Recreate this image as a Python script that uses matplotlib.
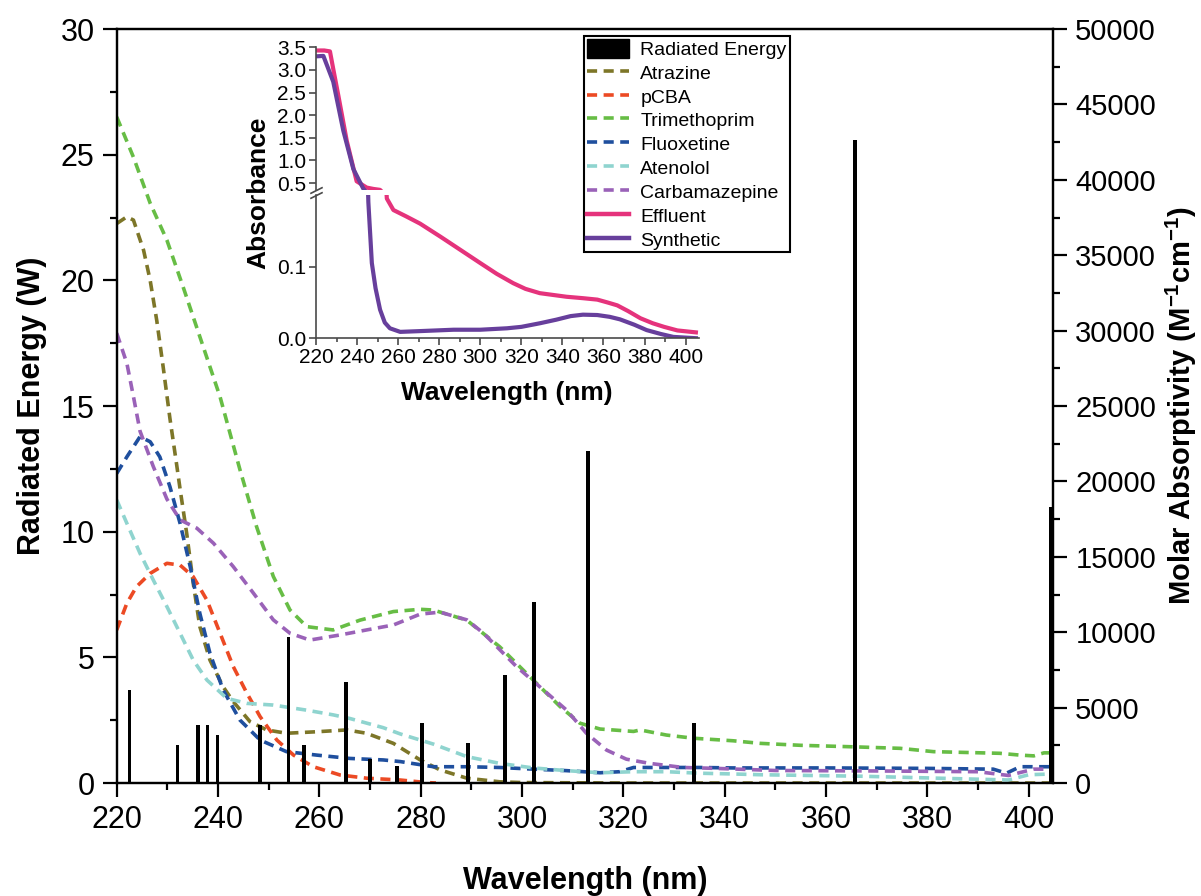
import matplotlib
matplotlib.use('Agg')
import matplotlib.pyplot as plt
from matplotlib import font_manager
from matplotlib.patches import Patch
from matplotlib.lines import Line2D
from matplotlib.ticker import MultipleLocator, FormatStrFormatter

plt.rcParams['font.family'] = 'Liberation Sans'
plt.rcParams['mathtext.fontset'] = 'custom'
plt.rcParams['mathtext.rm'] = 'Liberation Sans'
plt.rcParams['mathtext.bf'] = 'Liberation Sans:bold'

# the right axis title is set in a condensed face in the original
installed = {f.name for f in font_manager.fontManager.ttflist}
narrow = 'Liberation Sans Narrow' if 'Liberation Sans Narrow' in installed else 'Liberation Sans'

# Radiated energy of the lamp lines (W)
lamp_wl = [222.5, 232, 236, 237.9, 239.9, 248.3, 253.9, 257, 265.2, 270, 275.3,
           280.3, 289.4, 296.7, 302.4, 313, 334, 365.7, 404.3]
lamp_w = [3.7, 1.5, 2.3, 2.3, 1.9, 2.3, 5.8, 1.5, 4.0, 0.95, 0.68,
          2.4, 1.6, 4.3, 7.2, 13.2, 2.4, 25.6, 11.0]

# molar absorptivity (M-1 cm-1) of each compound
atr_wl = [220, 222, 223.3, 225.3, 226.6, 227.9, 229.2, 230.5, 231.8, 232.5, 233.8, 235.1,
          236.4, 238.4, 241, 243, 246.3, 249.6, 253.5, 259.5, 265.4, 269.3, 274.6, 279.9,
          283.8, 289.1, 295.6, 300, 320, 340, 360, 380, 404.8]
atr_eps = [37100, 37550, 37330, 35330, 33330, 30670, 27500, 24170, 21170, 19500, 16570, 13250,
           10370, 8150, 6380, 5400, 4070, 3520, 3300, 3400, 3520, 3300, 2630, 1530,
           870, 320, 80, 30, 0, 0, 0, 0, 0]

pcba_wl = [220, 222, 223.9, 226.6, 229.9, 232.5, 235.1, 237.8, 240.4, 243, 245.7, 248.3,
           251.6, 254.9, 258.8, 264.1, 269.3, 275.9, 281.2, 283]
pcba_eps = [10150, 11920, 13020, 13900, 14570, 14450, 13680, 12130, 9930, 7720, 5950, 4400,
            2850, 1850, 1080, 530, 320, 200, 30, 0]

tmp_wl = [220, 223.3, 226.6, 229.9, 233.1, 236.4, 240.4, 244.3, 247.6, 250.9, 254.2, 257.5,
          262.7, 268, 274.6, 279.9, 282.5, 289.1, 295.6, 302.2, 307.5, 311.4, 315.4, 322,
          323.3, 328.5, 333.8, 341.7, 347, 355, 365.4, 374.6, 381.2, 394.3, 398.3, 401, 403, 404.8]
tmp_eps = [44170, 41500, 38450, 36000, 32900, 29600, 25600, 20800, 17000, 13700, 11470, 10370,
           10150, 10800, 11370, 11520, 11470, 10800, 9030, 6830, 5070, 3970, 3580, 3420,
           3520, 3180, 2970, 2800, 2630, 2500, 2400, 2300, 2080, 1970, 1850, 1800, 2000, 2000]

flx_wl = [220, 222, 224.6, 226.6, 228.5, 230.5, 232.5, 234.5, 236.4, 238.4, 241, 244.3,
          248.3, 253.5, 259.5, 266, 272.6, 276, 282.5, 289.1, 295.6, 302.2, 308.8, 315.4,
          319.3, 322, 328.5, 335, 341.7, 360, 380, 393, 395.6, 398.3, 404.8]
flx_eps = [20530, 21630, 22970, 22630, 21630, 19650, 17220, 14350, 11250, 8600, 6170, 4180,
           2850, 2080, 1850, 1630, 1530, 1420, 1080, 1080, 1030, 920, 820, 680,
           750, 1030, 1030, 1030, 1000, 1000, 970, 920, 650, 1080, 1080]

atn_wl = [220, 222, 224.6, 227.2, 229.9, 232.5, 235.1, 237.8, 241.7, 245.7, 250.9, 257.5,
          262.7, 266, 272.6, 276, 279.9, 282.5, 289.1, 295.6, 302.2, 308.8, 315.4, 322,
          328.5, 335, 341.7, 347, 367, 381, 396, 400, 404.8]
atn_eps = [18770, 17220, 15230, 13470, 11700, 9930, 8150, 6830, 5620, 5280, 5170, 4830,
           4520, 4280, 3670, 3250, 2850, 2580, 1750, 1300, 1000, 820, 680, 750,
           750, 650, 600, 550, 450, 330, 200, 550, 600]

cbz_wl = [220, 222, 223.3, 224.6, 227.2, 229.9, 232.5, 235.8, 239.1, 243, 247, 250.9,
          254.2, 258.1, 264.1, 269.3, 274.6, 279.9, 283.8, 289.1, 292.4, 298.9, 303.5, 308.8,
          312.7, 316.7, 320.6, 325.2, 331.8, 338.3, 350, 370, 390, 396, 401, 404.8]
cbz_eps = [29830, 27830, 25620, 23330, 21000, 18830, 17450, 16900, 15900, 14350, 12580, 10820,
           9930, 9480, 9820, 10150, 10480, 11200, 11330, 10820, 9930, 7720, 6380, 4830,
           3300, 2180, 1580, 1300, 1030, 970, 830, 800, 750, 500, 920, 920]

# inset: absorbance of the two waters
eff_wl = [220, 224, 226.8, 228.5, 230.9, 235, 239.8, 244.7, 248, 251.2, 254.5, 257.7, 264,
          270.7, 280.5, 290, 300, 308, 316, 322, 329, 342, 350, 357, 362, 366.7, 372, 378,
          384, 389.5, 396, 406]
eff_abs = [3.43, 3.43, 3.41, 3.0, 2.43, 1.43, 0.54, 0.40, 0.37, 0.35, 0.195, 0.179, 0.17,
           0.160, 0.142, 0.124, 0.105, 0.09, 0.077, 0.069, 0.063, 0.058, 0.056, 0.054, 0.05,
           0.046, 0.038, 0.028, 0.021, 0.016, 0.011, 0.008]

syn_wl = [220, 223.6, 228.4, 233.3, 238.2, 243, 244.5, 245.5, 247.2, 249, 251.2, 253.5, 256,
          261, 270, 287, 300, 313, 320, 329, 337, 344, 350, 357, 363, 368, 375, 381, 388,
          394, 406]
syn_abs = [3.30, 3.31, 2.74, 1.66, 0.81, 0.38, 0.30, 0.19, 0.105, 0.07, 0.04, 0.022, 0.014,
           0.009, 0.010, 0.012, 0.012, 0.014, 0.016, 0.021, 0.026, 0.031, 0.033, 0.0325, 0.030,
           0.0265, 0.019, 0.0115, 0.006, 0.002, 0.0]

compounds = [
    ("Atrazine", atr_wl, atr_eps, "#7d7628"),
    ("pCBA", pcba_wl, pcba_eps, "#ec4a24"),
    ("Trimethoprim", tmp_wl, tmp_eps, "#67bd45"),
    ("Fluoxetine", flx_wl, flx_eps, "#1f4f9e"),
    ("Atenolol", atn_wl, atn_eps, "#8fd4cf"),
    ("Carbamazepine", cbz_wl, cbz_eps, "#9a62b8"),
]
eff_color = "#e5337c"
syn_color = "#673f9c"

fig = plt.figure(figsize=(12.01, 8.96), dpi=100)

# main plot
ax = fig.add_axes([0.0972, 0.1261, 0.7796, 0.8415])
ax2 = ax.twinx()
ax.set_zorder(ax2.get_zorder() + 1)
ax.patch.set_visible(False)

ax.bar(lamp_wl, lamp_w, width=0.75, color="black", zorder=3)

dash = (0, (2.8, 1.8))
for name, wl, eps, col in compounds:
    ax2.plot(wl, eps, ls=dash, lw=2.6, color=col)

ax.set_xlim(220, 404.8)
ax.set_ylim(0, 30)
ax2.set_ylim(0, 50000)

ax.xaxis.set_major_locator(MultipleLocator(20))
ax.xaxis.set_minor_locator(MultipleLocator(10))
ax.yaxis.set_major_locator(MultipleLocator(5))
ax.yaxis.set_minor_locator(MultipleLocator(2.5))
ax2.yaxis.set_major_locator(MultipleLocator(5000))
ax2.yaxis.set_minor_locator(MultipleLocator(2500))

for a in (ax, ax2):
    for s in a.spines.values():
        s.set_linewidth(1.6)
ax.tick_params(which="both", direction="out", width=1.6, labelsize=22, top=False)
ax.tick_params(which="major", length=10, pad=6)
ax.tick_params(which="minor", length=5)
ax2.tick_params(which="both", direction="out", width=1.6, labelsize=21)
ax2.tick_params(which="major", length=10, pad=6)
ax2.tick_params(which="minor", length=5)

ax.set_xlabel("Wavelength (nm)", fontsize=22, fontweight="bold", labelpad=22)
ax.set_ylabel("Radiated Energy (W)", fontsize=22, fontweight="bold", labelpad=10)
fig.text(1181 / 1201, 0.5 - 0.0 / 896 + (0.1261 + 0.8415 / 2 - 0.5),
         r"Molar Absorptivity (M$^{\mathbf{-1}}$cm$^{\mathbf{-1}}$)",
         family=narrow, fontsize=21, fontweight="bold", rotation=90,
         ha="center", va="center")

# inset with broken absorbance axis
gray = "#4a4a4a"
ax_lo = fig.add_axes([0.2631, 0.6224, 0.3189, 0.160])
ax_hi = fig.add_axes([0.2631, 0.7879, 0.3189, 0.1593])

for a in (ax_lo, ax_hi):
    a.plot(eff_wl, eff_abs, color=eff_color, lw=3.0, solid_capstyle="butt")
    a.plot(syn_wl, syn_abs, color=syn_color, lw=3.0, solid_capstyle="butt")
    a.set_xlim(220, 406.5)
    a.spines["top"].set_visible(False)
    a.spines["right"].set_visible(False)
    a.spines["left"].set_color(gray)
    a.spines["bottom"].set_color(gray)
    a.spines["left"].set_linewidth(1.2)
    a.spines["bottom"].set_linewidth(1.2)
    a.tick_params(which="both", direction="out", color=gray, width=1.2, labelsize=15)
    a.tick_params(which="major", length=5, pad=2)
    a.tick_params(which="minor", length=3)

ax_lo.set_ylim(0, 0.2)
ax_lo.set_yticks([0.0, 0.1])
ax_lo.yaxis.set_major_formatter(FormatStrFormatter("%.1f"))
ax_lo.xaxis.set_major_locator(MultipleLocator(20))
ax_lo.xaxis.set_minor_locator(MultipleLocator(10))

ax_hi.set_ylim(0.346, 3.5)
ax_hi.set_yticks([0.5, 1.0, 1.5, 2.0, 2.5, 3.0, 3.5])
ax_hi.yaxis.set_major_formatter(FormatStrFormatter("%.1f"))
ax_hi.spines["bottom"].set_visible(False)
ax_hi.tick_params(axis="x", which="both", bottom=False, labelbottom=False)

# break marks on the left spine
kw = dict(marker=[(-1, -0.5), (1, 0.5)], markersize=9, linestyle="none",
          color=gray, mec=gray, mew=1.2, clip_on=False)
ax_lo.plot([0], [1], transform=ax_lo.transAxes, **kw)
ax_hi.plot([0], [0], transform=ax_hi.transAxes, **kw)

fig.text(258 / 1201, 1 - 192.5 / 896, "Absorbance", rotation=90, fontsize=19,
         fontweight="bold", ha="center", va="center")
fig.text(506.7 / 1201, 1 - 393 / 896, "Wavelength (nm)", fontsize=19,
         fontweight="bold", ha="center", va="center")

# legend
handles = [Patch(facecolor="black", edgecolor="black")]
labels = ["Radiated Energy"]
for name, wl, eps, col in compounds:
    handles.append(Line2D([], [], ls=dash, lw=2.6, color=col))
    labels.append(name)
handles.append(Line2D([], [], lw=3.2, color=eff_color))
labels.append("Effluent")
handles.append(Line2D([], [], lw=3.2, color=syn_color))
labels.append("Synthetic")

leg = fig.legend(handles, labels, loc="upper left",
                 bbox_to_anchor=(584 / 1201, 1 - 36 / 896), frameon=True,
                 fancybox=False, edgecolor="black", framealpha=1, fontsize=14,
                 handlelength=2.15, handleheight=1.1, labelspacing=0.2,
                 borderpad=0.15, handletextpad=0.6, borderaxespad=0)
leg.get_frame().set_linewidth(1.5)

fig.savefig("out.png", dpi=100)
